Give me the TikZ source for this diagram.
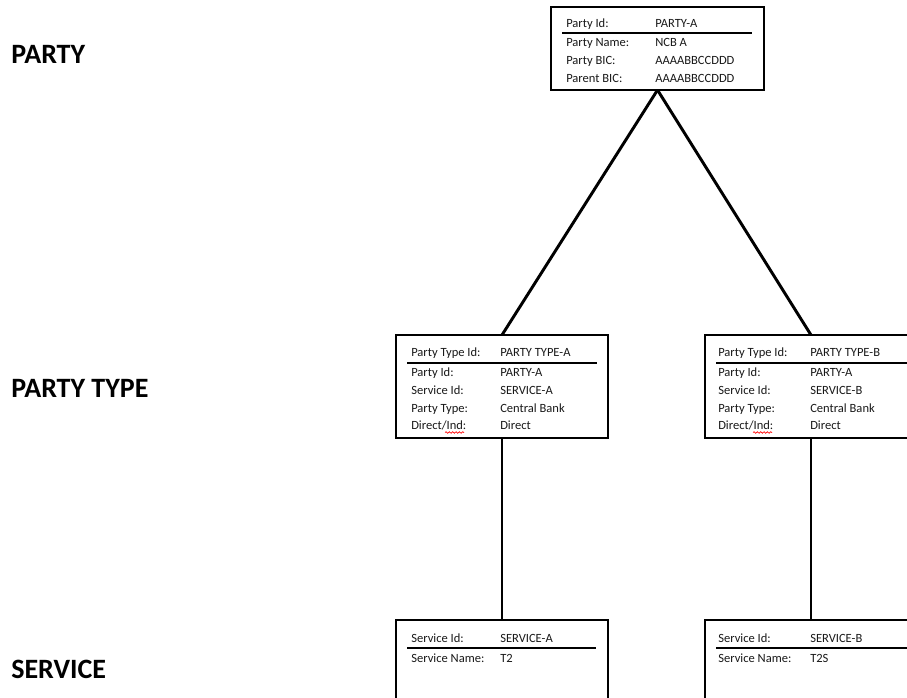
\documentclass[tikz,border=0pt]{standalone}
\usepackage{fontspec}
\setmainfont{Carlito}
\usetikzlibrary{decorations.pathmorphing}
\newlength\px \setlength\px{0.75pt}
\begin{document}
\begin{tikzpicture}[x=\px,y=-\px,
  box/.style={draw=black,line width=1.4pt,rectangle,outer sep=0pt,inner sep=0pt},
  conn/.style={line width=2.2pt,black},
  sep/.style={line width=1pt,black},
  lbl/.style={anchor=base west,inner sep=0pt,font=\fontsize{9.4pt}{11pt}\selectfont,text=black!90},
  level/.style={anchor=base west,inner sep=0pt,font=\fontsize{21pt}{24pt}\selectfont\bfseries}]
\useasboundingbox (0,0) rectangle (907,698);
\clip (0,0) rectangle (907,698);
\fill[white] (0,0) rectangle (907,698);

% level labels
\node[level] (lparty) at (11,64) {PARTY};
\node[level] (lptype) at (11,398) {PARTY TYPE};
\node[level] (lserv) at (11,678) {SERVICE};

% boxes
\node[box,minimum width=213\px,minimum height=83\px] (party) at (657.5,48.5) {};
\node[box,minimum width=212\px,minimum height=103\px] (pta) at (502,386.5) {};
\node[box,minimum width=212\px,minimum height=103\px] (ptb) at (811,386.5) {};
\node[box,minimum width=212\px,minimum height=100\px] (sa) at (502,670) {};
\node[box,minimum width=212\px,minimum height=100\px] (sb) at (811,670) {};

% connectors
\draw[conn] (party.south) -- (pta.north);
\draw[conn] (party.south) -- (ptb.north);
\draw[conn] (pta.south) -- (sa.north);
\draw[conn] (ptb.south) -- (sb.north);

% party box
\node[lbl] (p1l) at (566,28) {Party Id:};      \node[lbl] (p1v) at (655,28) {PARTY-A};
\draw[sep] (562,33) -- (752,33);
\node[lbl] (p2l) at (566,47) {Party Name:};    \node[lbl] (p2v) at (655,47) {NCB A};
\node[lbl] (p3l) at (566,65) {Party BIC:};     \node[lbl] (p3v) at (655,65) {AAAABBCCDDD};
\node[lbl] (p4l) at (566,83) {Parent BIC:};    \node[lbl] (p4v) at (655,83) {AAAABBCCDDD};

% party type A
\node[lbl] (a1l) at (411,357) {Party Type Id:}; \node[lbl] (a1v) at (500,357) {PARTY TYPE-A};
\draw[sep] (407,363) -- (597,363);
\node[lbl] (a2l) at (411,377) {Party Id:};      \node[lbl] (a2v) at (500,377) {PARTY-A};
\node[lbl] (a3l) at (411,395) {Service Id:};    \node[lbl] (a3v) at (500,395) {SERVICE-A};
\node[lbl] (a4l) at (411,413) {Party Type:};    \node[lbl] (a4v) at (500,413) {Central Bank};
\node[lbl] (a5l) at (411,430) {Direct/Ind:};    \node[lbl] (a5v) at (500,430) {Direct};
\draw[red,line width=0.5pt,decorate,decoration={snake,amplitude=0.6pt,segment length=2.5pt}] (445,432.5) -- (464,432.5);

% party type B
\node[lbl] (b1l) at (718,357) {Party Type Id:}; \node[lbl] (b1v) at (810,357) {PARTY TYPE-B};
\draw[sep] (716,363) -- (910,363);
\node[lbl] (b2l) at (718,377) {Party Id:};      \node[lbl] (b2v) at (810,377) {PARTY-A};
\node[lbl] (b3l) at (718,395) {Service Id:};    \node[lbl] (b3v) at (810,395) {SERVICE-B};
\node[lbl] (b4l) at (718,413) {Party Type:};    \node[lbl] (b4v) at (810,413) {Central Bank};
\node[lbl] (b5l) at (718,430) {Direct/Ind:};    \node[lbl] (b5v) at (810,430) {Direct};
\draw[red,line width=0.5pt,decorate,decoration={snake,amplitude=0.6pt,segment length=2.5pt}] (753,432.5) -- (772,432.5);

% service A
\node[lbl] (s1l) at (411,642) {Service Id:};    \node[lbl] (s1v) at (500,642) {SERVICE-A};
\draw[sep] (407,648) -- (596,648);
\node[lbl] (s2l) at (411,662) {Service Name:};  \node[lbl] (s2v) at (500,662) {T2};

% service B
\node[lbl] (t1l) at (718,642) {Service Id:};    \node[lbl] (t1v) at (810,642) {SERVICE-B};
\draw[sep] (716,648) -- (910,648);
\node[lbl] (t2l) at (718,662) {Service Name:};  \node[lbl] (t2v) at (810,662) {T2S};
\end{tikzpicture}
\end{document}
